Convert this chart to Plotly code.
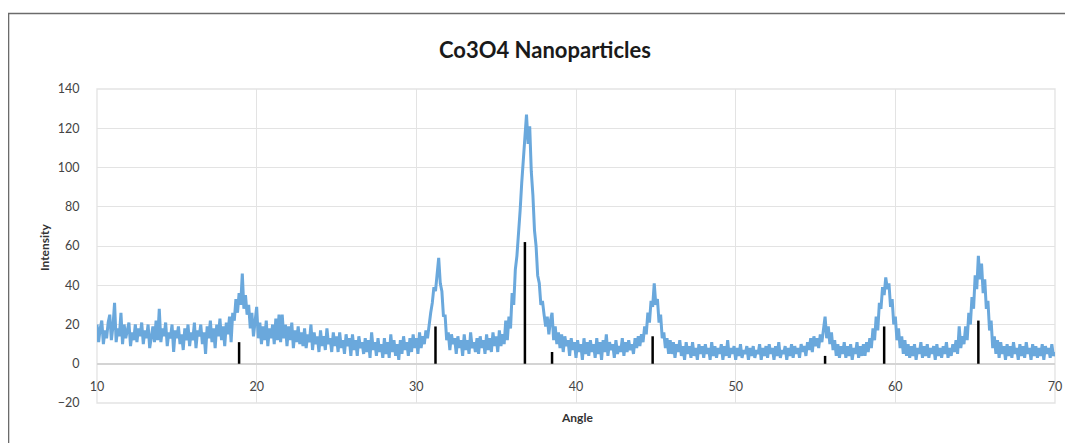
import plotly.graph_objects as go

# ---- data (angle step 0.1 deg, 10.0 .. 70.0) ----
angle_start = 10.0
angle_step = 0.1
intensity_by_degree = {
    10: [20, 11, 18, 22, 10, 17, 13, 21, 25, 12],
    11: [19, 31, 11, 18, 14, 26, 10, 20, 13, 17],
    12: [21, 9, 16, 12, 20, 11, 18, 14, 21, 10],
    13: [17, 13, 20, 8, 15, 19, 11, 22, 12, 28],
    14: [11, 18, 14, 21, 9, 16, 13, 20, 6, 17],
    15: [13, 19, 10, 15, 7, 18, 12, 20, 9, 16],
    16: [12, 21, 8, 17, 14, 20, 10, 16, 5, 19],
    17: [13, 22, 11, 18, 8, 20, 14, 23, 12, 19],
    18: [9, 21, 15, 24, 11, 26, 22, 33, 26, 36],
    19: [30, 46, 28, 35, 25, 30, 18, 26, 14, 23],
    20: [29, 13, 21, 10, 19, 12, 22, 9, 18, 13],
    21: [20, 10, 23, 12, 25, 11, 25, 13, 20, 9],
    22: [19, 12, 21, 8, 17, 11, 19, 10, 16, 9],
    23: [18, 8, 15, 11, 20, 7, 16, 10, 14, 6],
    24: [17, 9, 14, 7, 18, 10, 13, 6, 16, 9],
    25: [14, 6, 16, 8, 12, 5, 15, 9, 13, 4],
    26: [15, 7, 12, 4, 14, 8, 11, 5, 13, 6],
    27: [12, 3, 16, 7, 11, 4, 13, 6, 10, 3],
    28: [13, 5, 11, 3, 15, 6, 12, 4, 10, 2],
    29: [12, 5, 14, 7, 11, 4, 13, 6, 15, 8],
    30: [13, 5, 16, 8, 14, 10, 17, 13, 21, 26],
    31: [31, 39, 37, 46, 54, 41, 37, 24, 25, 12],
    32: [16, 7, 15, 10, 13, 5, 14, 8, 12, 4],
    33: [15, 7, 12, 5, 16, 8, 11, 6, 13, 5],
    34: [14, 8, 12, 5, 15, 7, 13, 6, 16, 9],
    35: [14, 6, 17, 9, 15, 10, 22, 12, 24, 18],
    36: [36, 30, 48, 55, 70, 78, 92, 104, 118, 127],
    37: [112, 121, 98, 86, 68, 60, 45, 41, 30, 32],
    38: [25, 19, 24, 15, 22, 26, 12, 19, 10, 16],
    39: [8, 15, 6, 14, 9, 12, 4, 13, 7, 11],
    40: [3, 12, 6, 10, 2, 13, 5, 11, 4, 12],
    41: [6, 10, 3, 13, 5, 11, 2, 12, 6, 15],
    42: [4, 11, 7, 10, 3, 12, 5, 9, 6, 13],
    43: [4, 11, 6, 12, 7, 10, 5, 13, 8, 14],
    44: [9, 15, 11, 19, 15, 26, 21, 32, 29, 41],
    45: [30, 33, 21, 25, 13, 16, 8, 13, 5, 12],
    46: [5, 11, 3, 10, 6, 12, 4, 9, 2, 11],
    47: [5, 9, 3, 11, 4, 8, 2, 10, 5, 9],
    48: [3, 10, 5, 8, 2, 11, 4, 9, 3, 8],
    49: [5, 10, 2, 9, 4, 12, 3, 8, 5, 9],
    50: [2, 8, 4, 10, 3, 7, 5, 9, 2, 8],
    51: [4, 9, 3, 7, 5, 10, 2, 8, 4, 9],
    52: [3, 10, 5, 8, 2, 9, 4, 11, 3, 7],
    53: [5, 9, 2, 8, 4, 10, 3, 9, 5, 8],
    54: [3, 10, 6, 9, 4, 11, 7, 13, 6, 14],
    55: [9, 13, 8, 15, 11, 18, 24, 13, 19, 10],
    56: [16, 7, 12, 4, 10, 3, 9, 5, 11, 3],
    57: [9, 4, 10, 2, 8, 5, 11, 3, 9, 4],
    58: [10, 4, 11, 6, 13, 8, 18, 12, 24, 17],
    59: [31, 28, 39, 35, 44, 38, 41, 29, 33, 20],
    60: [24, 12, 18, 8, 14, 5, 12, 4, 10, 3],
    61: [9, 4, 10, 2, 8, 5, 11, 3, 9, 4],
    62: [10, 3, 8, 5, 9, 2, 10, 4, 8, 3],
    63: [9, 5, 11, 3, 8, 4, 10, 6, 12, 5],
    64: [19, 8, 14, 10, 19, 12, 26, 20, 34, 28],
    65: [45, 38, 55, 43, 51, 36, 43, 28, 32, 17],
    66: [22, 8, 14, 5, 12, 3, 11, 5, 9, 2],
    67: [10, 4, 9, 3, 11, 5, 8, 2, 10, 4],
    68: [9, 3, 11, 5, 8, 2, 10, 4, 9, 3],
    69: [8, 4, 10, 2, 9, 5, 8, 3, 10, 4],
    70: [6],
}

# reference (standard) peak positions and heights
ref_angles = [18.9, 31.2, 36.8, 38.5, 44.8, 55.6, 59.3, 65.2]
ref_heights = [11, 19, 62, 6, 14, 4, 19, 22]

title_text = "Co3O4 Nanoparticles"
x_title = "Angle"
y_title = "Intensity"
x_ticks = [10, 20, 30, 40, 50, 60, 70]
y_ticks = [-20, 0, 20, 40, 60, 80, 100, 120, 140]

# ---- build series ----
intensity = []
for d in sorted(intensity_by_degree):
    intensity.extend(intensity_by_degree[d])
angles = [round(angle_start + i * angle_step, 2) for i in range(len(intensity))]

ref_x, ref_y = [], []
for a, h in zip(ref_angles, ref_heights):
    ref_x += [a, a, None]
    ref_y += [0, h, None]

# page pixel layout (the page body adds an 8px offset)
OFF = 8
PAGE_W, PAGE_H = 1073, 443
L, R, T, B = 97, 1055, 89, 403  # plot area in page pixels
W, H = PAGE_W - OFF, PAGE_H - OFF


def px(xp):
    return (xp - L) / (R - L)


def py(yp):
    return (B - yp) / (B - T)


fig = go.Figure()
fig.add_trace(go.Scatter(x=angles, y=intensity, mode="lines",
                         line=dict(color="#6aa8dc", width=3),
                         hoverinfo="skip", showlegend=False))
fig.add_trace(go.Scatter(x=ref_x, y=ref_y, mode="lines",
                         line=dict(color="#000000", width=2.5),
                         hoverinfo="skip", showlegend=False))

tick_font = dict(family="Lato, Open Sans, sans-serif", size=12.5, color="#444444")
grid = "#e3e3e3"

fig.update_layout(
    width=W, height=H,
    margin=dict(l=L - OFF, r=PAGE_W - R, t=T - OFF, b=PAGE_H - B),
    paper_bgcolor="white", plot_bgcolor="white",
    xaxis=dict(range=[10, 70], tickvals=x_ticks, showgrid=True, gridcolor=grid,
               gridwidth=1.3, zeroline=False, showline=False,
               anchor="free", position=20 / 160,
               ticks="outside", ticklen=11, tickcolor="rgba(0,0,0,0)",
               tickfont=tick_font),
    yaxis=dict(range=[-20, 140], tickvals=y_ticks, showgrid=True, gridcolor=grid,
               gridwidth=1.3, zeroline=True, zerolinecolor="#d4d4d4", zerolinewidth=2,
               showline=False, ticks="outside", ticklen=14,
               tickcolor="rgba(0,0,0,0)", tickfont=tick_font),
    shapes=[
        dict(type="rect", xref="paper", yref="paper", x0=0, x1=1, y0=0, y1=1,
             line=dict(color=grid, width=1.3), layer="below"),
        dict(type="path", xref="paper", yref="paper",
             path=f"M {px(8.5)} {py(460)} L {px(8.5)} {py(13.5)} L {px(1090)} {py(13.5)}",
             line=dict(color="#6b6b6b", width=1.6)),
    ],
    annotations=[
        dict(text=f"<b>{title_text}</b>", xref="paper", yref="paper",
             x=px(545), y=py(50), xanchor="center", yanchor="middle",
             showarrow=False,
             font=dict(family="Lato, Open Sans, sans-serif", size=22, color="#1a1a1a")),
        dict(text=f"<b>{x_title}</b>", xref="paper", yref="paper",
             x=px(577), y=py(417), xanchor="center", yanchor="middle",
             showarrow=False,
             font=dict(family="Lato, Open Sans, sans-serif", size=12, color="#333333")),
        dict(text=f"<b>{y_title}</b>", xref="paper", yref="paper",
             x=px(44), y=py(247), xanchor="center", yanchor="middle",
             showarrow=False, textangle=-90,
             font=dict(family="Lato, Open Sans, sans-serif", size=12, color="#333333")),
    ],
)

fig.write_html("out.html")
